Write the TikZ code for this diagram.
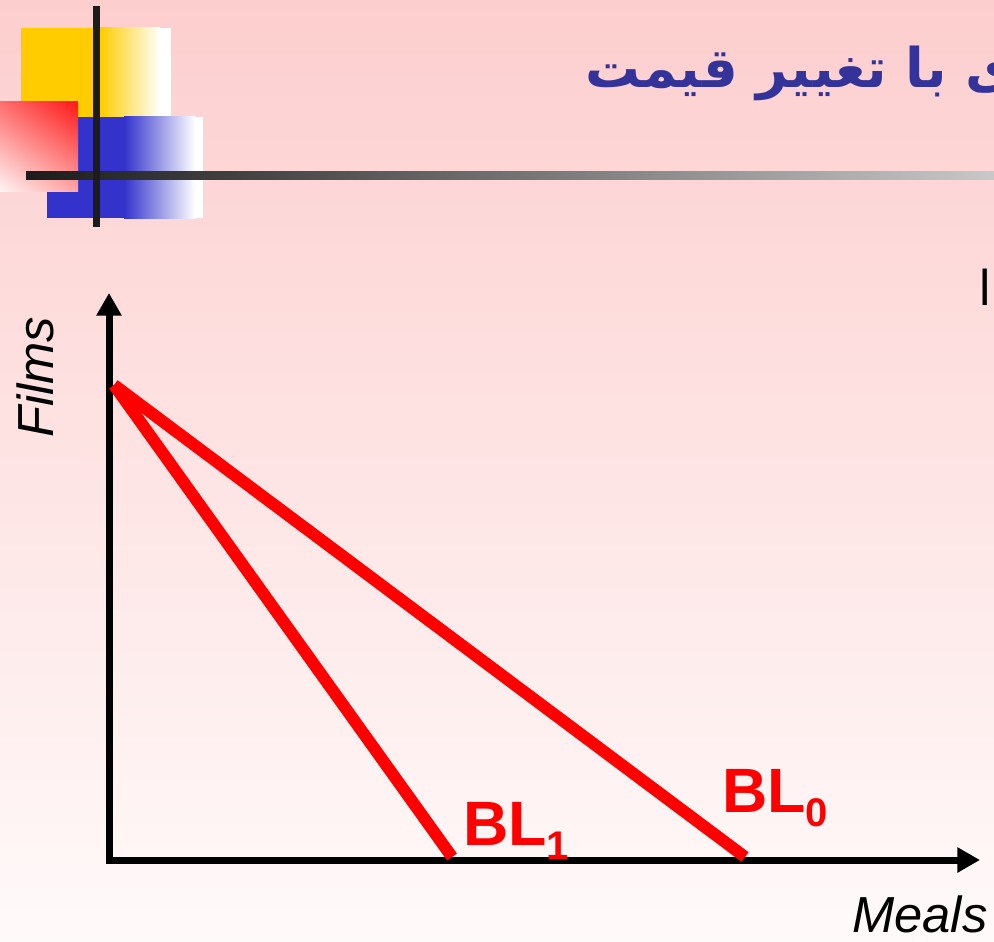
\documentclass[tikz,border=0pt]{standalone}
\usepackage{fontspec}
\setmainfont{Liberation Sans}
\newfontfamily\arabicfont[Script=Arabic]{DejaVu Sans}
\TeXXeTstate=1
\usetikzlibrary{arrows.meta,shadings}
\definecolor{bgtop}{RGB}{253,206,206}
\definecolor{bgbot}{RGB}{255,250,250}
\definecolor{logoyellow}{RGB}{255,204,0}
\definecolor{logoblue}{RGB}{51,51,204}
\definecolor{logored}{RGB}{255,24,24}
\definecolor{redul}{RGB}{255,110,110}
\definecolor{redlr}{RGB}{255,165,165}
\definecolor{redll}{RGB}{255,245,245}
\definecolor{titleblue}{RGB}{51,51,153}
\definecolor{bardark}{RGB}{28,28,28}
\definecolor{barlight}{RGB}{200,200,200}
\definecolor{blred}{RGB}{255,0,0}
\tikzset{
  axisline/.style={line width=5.25pt, draw=black, -{Triangle[length=17pt,width=18pt]}},
  budget/.style={line width=9pt, draw=blred},
  bllabel/.style={text=blred, font=\bfseries\fontsize{47}{50}\selectfont, inner sep=0pt},
  axislabel/.style={font=\itshape\fontsize{38}{40}\selectfont, inner sep=0pt},
}
\newcommand{\subsc}[1]{\raisebox{-11pt}{\fontsize{30}{31}\selectfont #1}}
\begin{document}
\begin{tikzpicture}[x=0.75pt,y=-0.75pt]
\useasboundingbox (0,0) rectangle (994,941);
\clip (0,0) rectangle (994,941);
% background
\shade[top color=bgtop, bottom color=bgbot] (0,0) rectangle (994,941);
% logo: yellow
\fill[logoyellow] (21,28) rectangle (100,117);
\shade[left color=logoyellow, right color=white] (100,28) rectangle (160,117);
\fill[white] (160,28) rectangle (171,117);
% logo: blue
\fill[logoblue] (47,117) rectangle (124,218);
\shade[left color=logoblue, right color=white] (124,117) rectangle (195,218);
\fill[white] (195,117) rectangle (203,218);
% logo: red
\shade[upper right=logored, upper left=redul, lower right=redlr, lower left=redll]
  (0,102) rectangle (78,192);
% bars
\shade[left color=bardark, right color=barlight] (26,172) rectangle (994,180);
\fill[bardark] (93,6) rectangle (100,227);
% title
\node[anchor=base west, inner sep=0pt, text=titleblue, font=\arabicfont\bfseries\fontsize{41}{46}\selectfont] (title) at (585,88) {\beginR ی با تغییر قیمت\endR};
\node[anchor=base west, inner sep=0pt, font=\arabicfont\fontsize{36}{38}\selectfont] (frag) at (978,305) {ا};
% axes
\coordinate (origin) at (109,860);
\coordinate (ytip) at (109,293);
\coordinate (xtip) at (980,860);
\coordinate (ybot) at (109,863.5);
\coordinate (xleft) at (105.5,860);
\draw[axisline] (ybot) -- (ytip);
\draw[axisline] (xleft) -- (xtip);
% budget lines
\coordinate (top) at (114,385);
\coordinate (bl0end) at (745,857);
\coordinate (bl1end) at (452,857);
\draw[budget] (top) -- (bl0end);
\draw[budget] (top) -- (bl1end);
% labels
\node[bllabel, anchor=base west] (bl1) at (463,845) {BL\subsc{1}};
\node[bllabel, anchor=base west] (bl0) at (722,812) {BL\subsc{0}};
\node[axislabel, anchor=base west, rotate=90] (films) at (53,438) {Films};
\node[axislabel, anchor=base west] (meals) at (852,932) {Meals};
\end{tikzpicture}
\end{document}
